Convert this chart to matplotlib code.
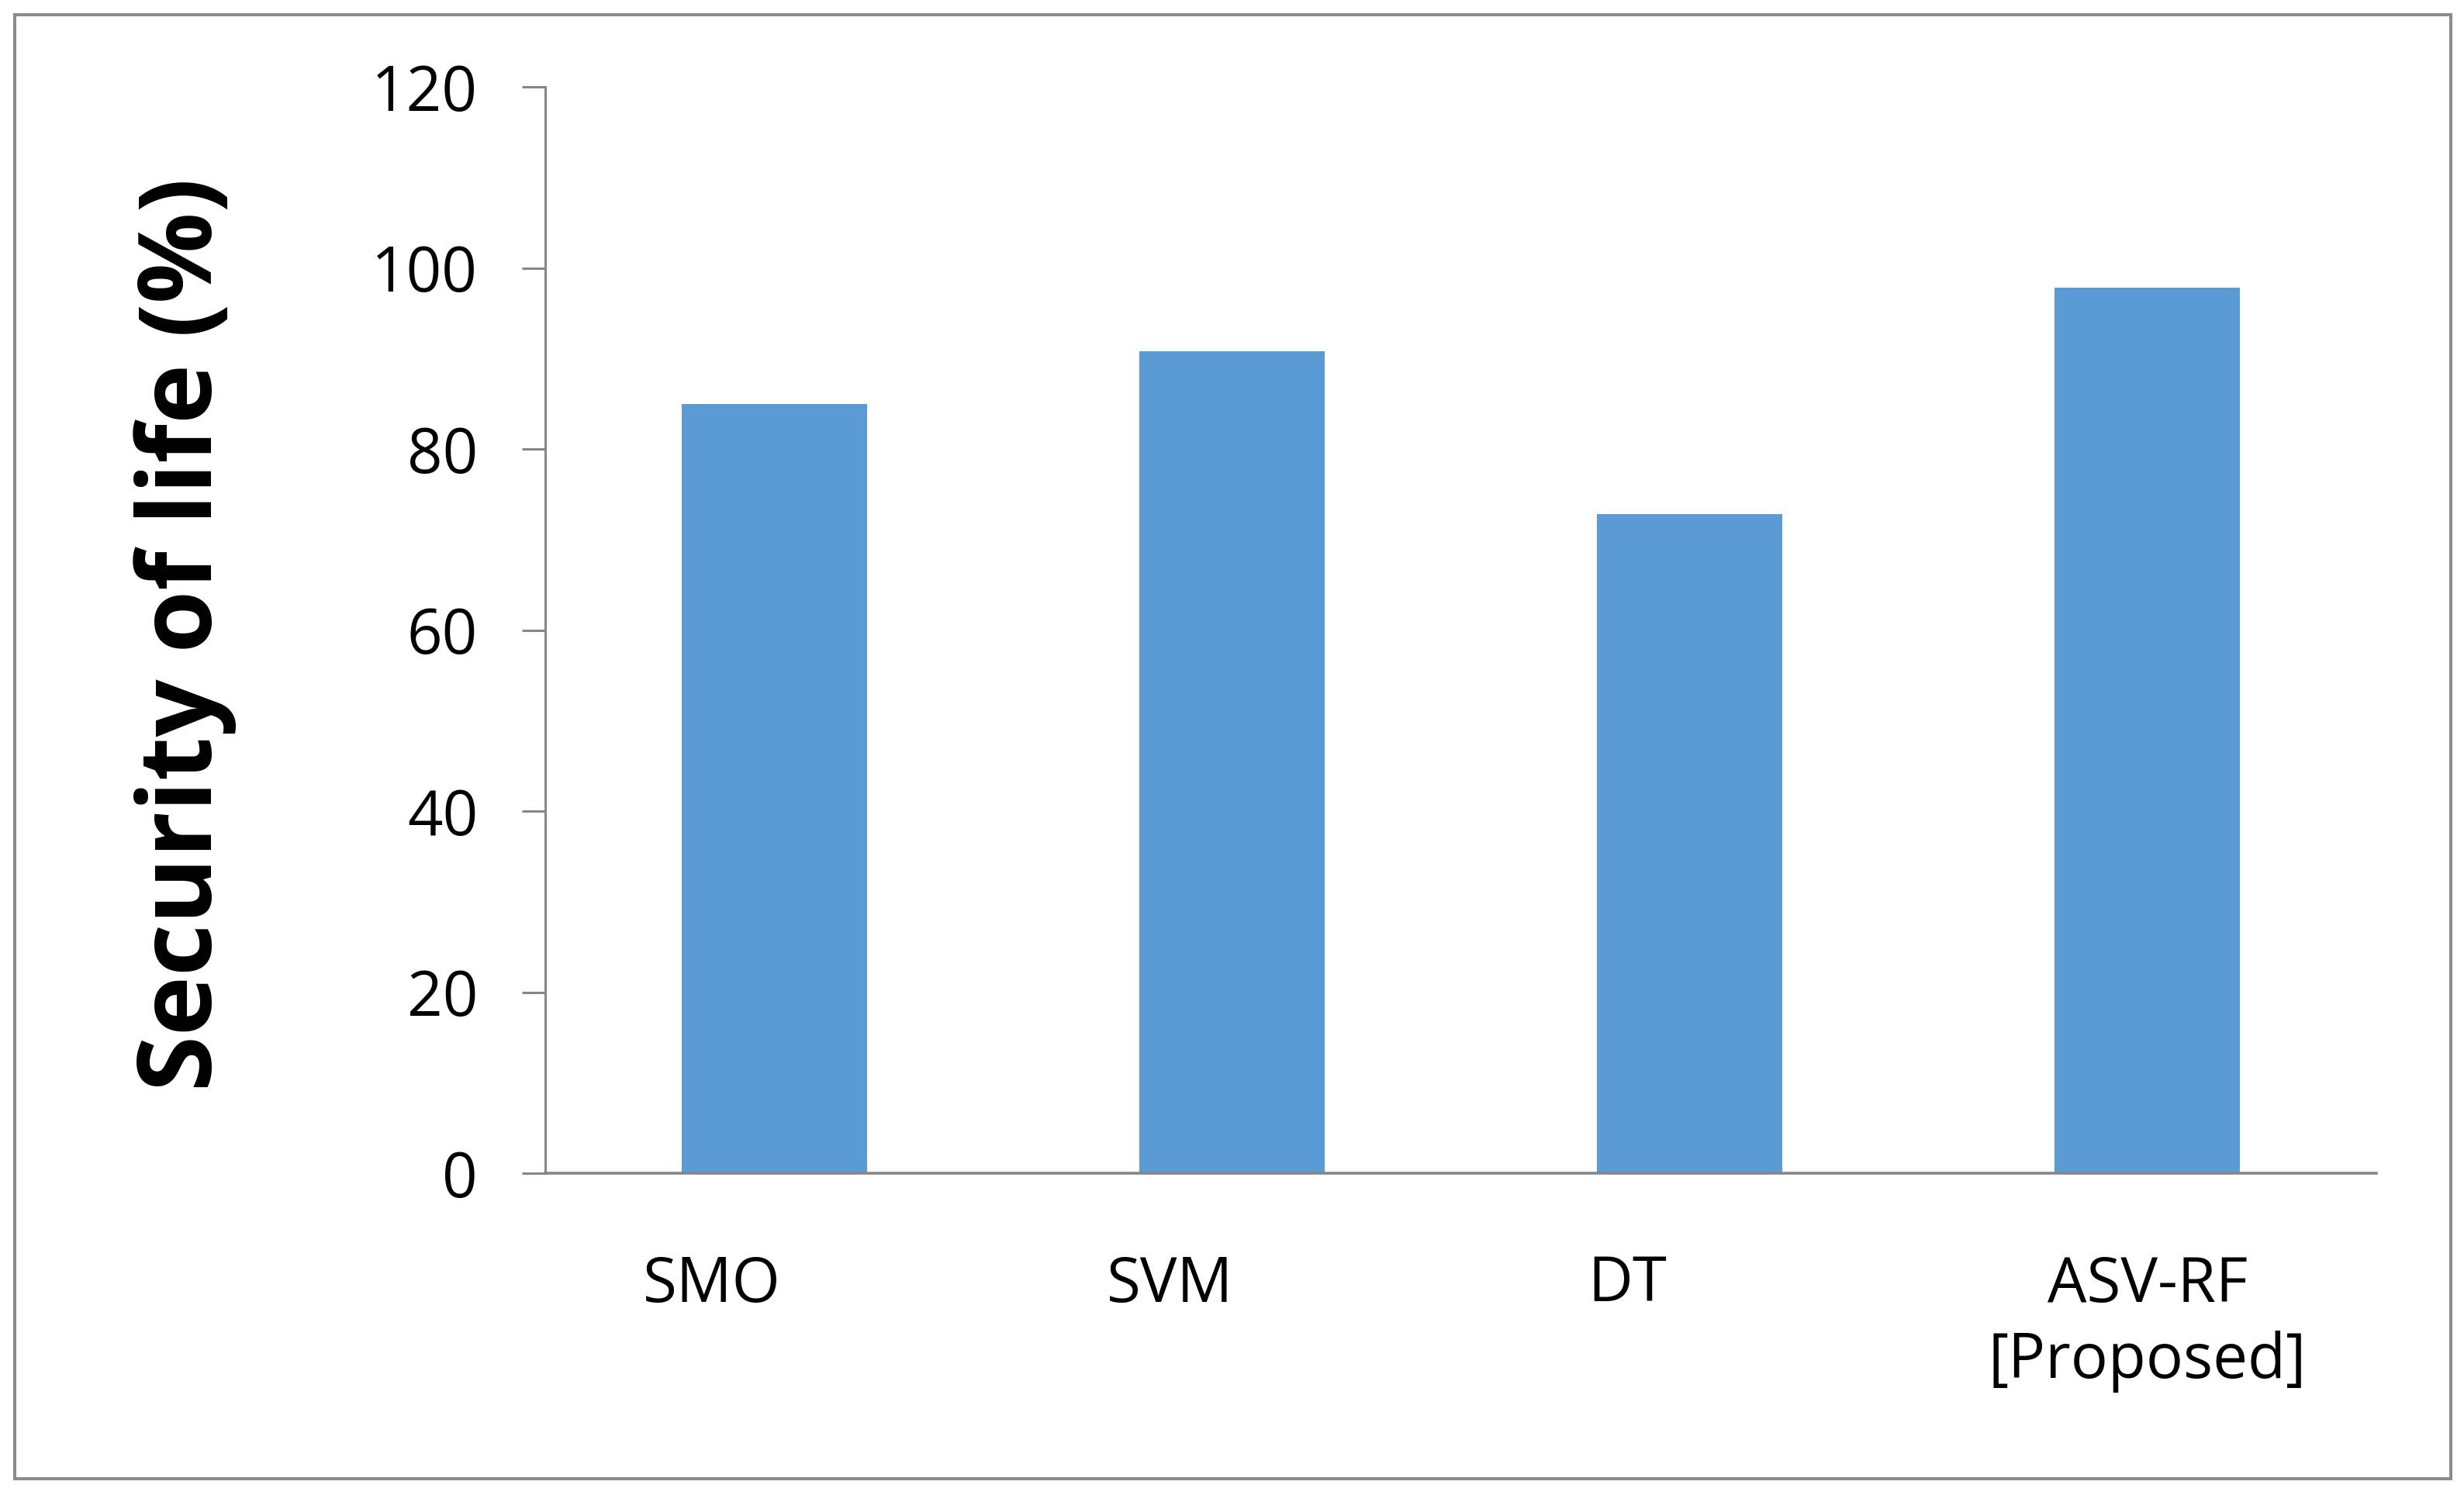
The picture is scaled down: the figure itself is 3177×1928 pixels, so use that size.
import matplotlib
matplotlib.use("Agg")
import matplotlib.pyplot as plt
from matplotlib.patches import Rectangle

categories = ["SMO", "SVM", "DT", "ASV-RF\n[Proposed]"]
values = [85.0, 90.8, 72.8, 97.8]
yticks = [0, 20, 40, 60, 80, 100, 120]
label_shift_px = [-80, -80, -80, 0]

W, H, DPI = 3177, 1928, 100
fig = plt.figure(figsize=(W / DPI, H / DPI), dpi=DPI)
fig.patch.set_facecolor("white")

# outer border
fig.patches.append(Rectangle((19 / W, 1 - 1907 / H), (3160 - 19) / W, (1907 - 19) / H,
                             transform=fig.transFigure, fill=False,
                             edgecolor="#8c8c8c", linewidth=2.9))

ax = fig.add_axes([703 / W, 1 - 1513 / H, (3064 - 703) / W, (1513 - 112) / H])
xs = list(range(len(categories)))
ax.bar(xs, values, width=0.405, color="#5B9BD5", zorder=2)
ax.set_xlim(-0.5, len(categories) - 0.5)
ax.set_ylim(0, 120)
ax.set_yticks(yticks)
ax.set_yticklabels([str(t) for t in yticks], fontfamily="Open Sans", fontsize=57.5, color="black")
ax.tick_params(axis="y", length=21.6, width=2.2, color="#868686", pad=41)
ax.set_xticks([])
for s in ["top", "right"]:
    ax.spines[s].set_visible(False)
for s in ["left", "bottom"]:
    ax.spines[s].set_color("#868686")
ax.spines["left"].set_linewidth(2.2)
ax.spines["bottom"].set_linewidth(2.6)

for i, (lab, dx) in enumerate(zip(categories, label_shift_px)):
    ax.annotate(lab, xy=(i, 0), xycoords=("data", "axes fraction"),
                xytext=(dx * 72 / DPI, -104 * 72 / DPI), textcoords="offset points",
                ha="center", va="top", fontfamily="Open Sans", fontsize=57.5,
                color="black", linespacing=1.3, annotation_clip=False)

fig.text(239 / W, 1 - 818 / H, "Security of life (%)", rotation=90,
         ha="center", va="center", fontfamily="Open Sans", fontweight="bold",
         fontsize=94, color="black")

fig.savefig("out.png", dpi=DPI, facecolor="white")
